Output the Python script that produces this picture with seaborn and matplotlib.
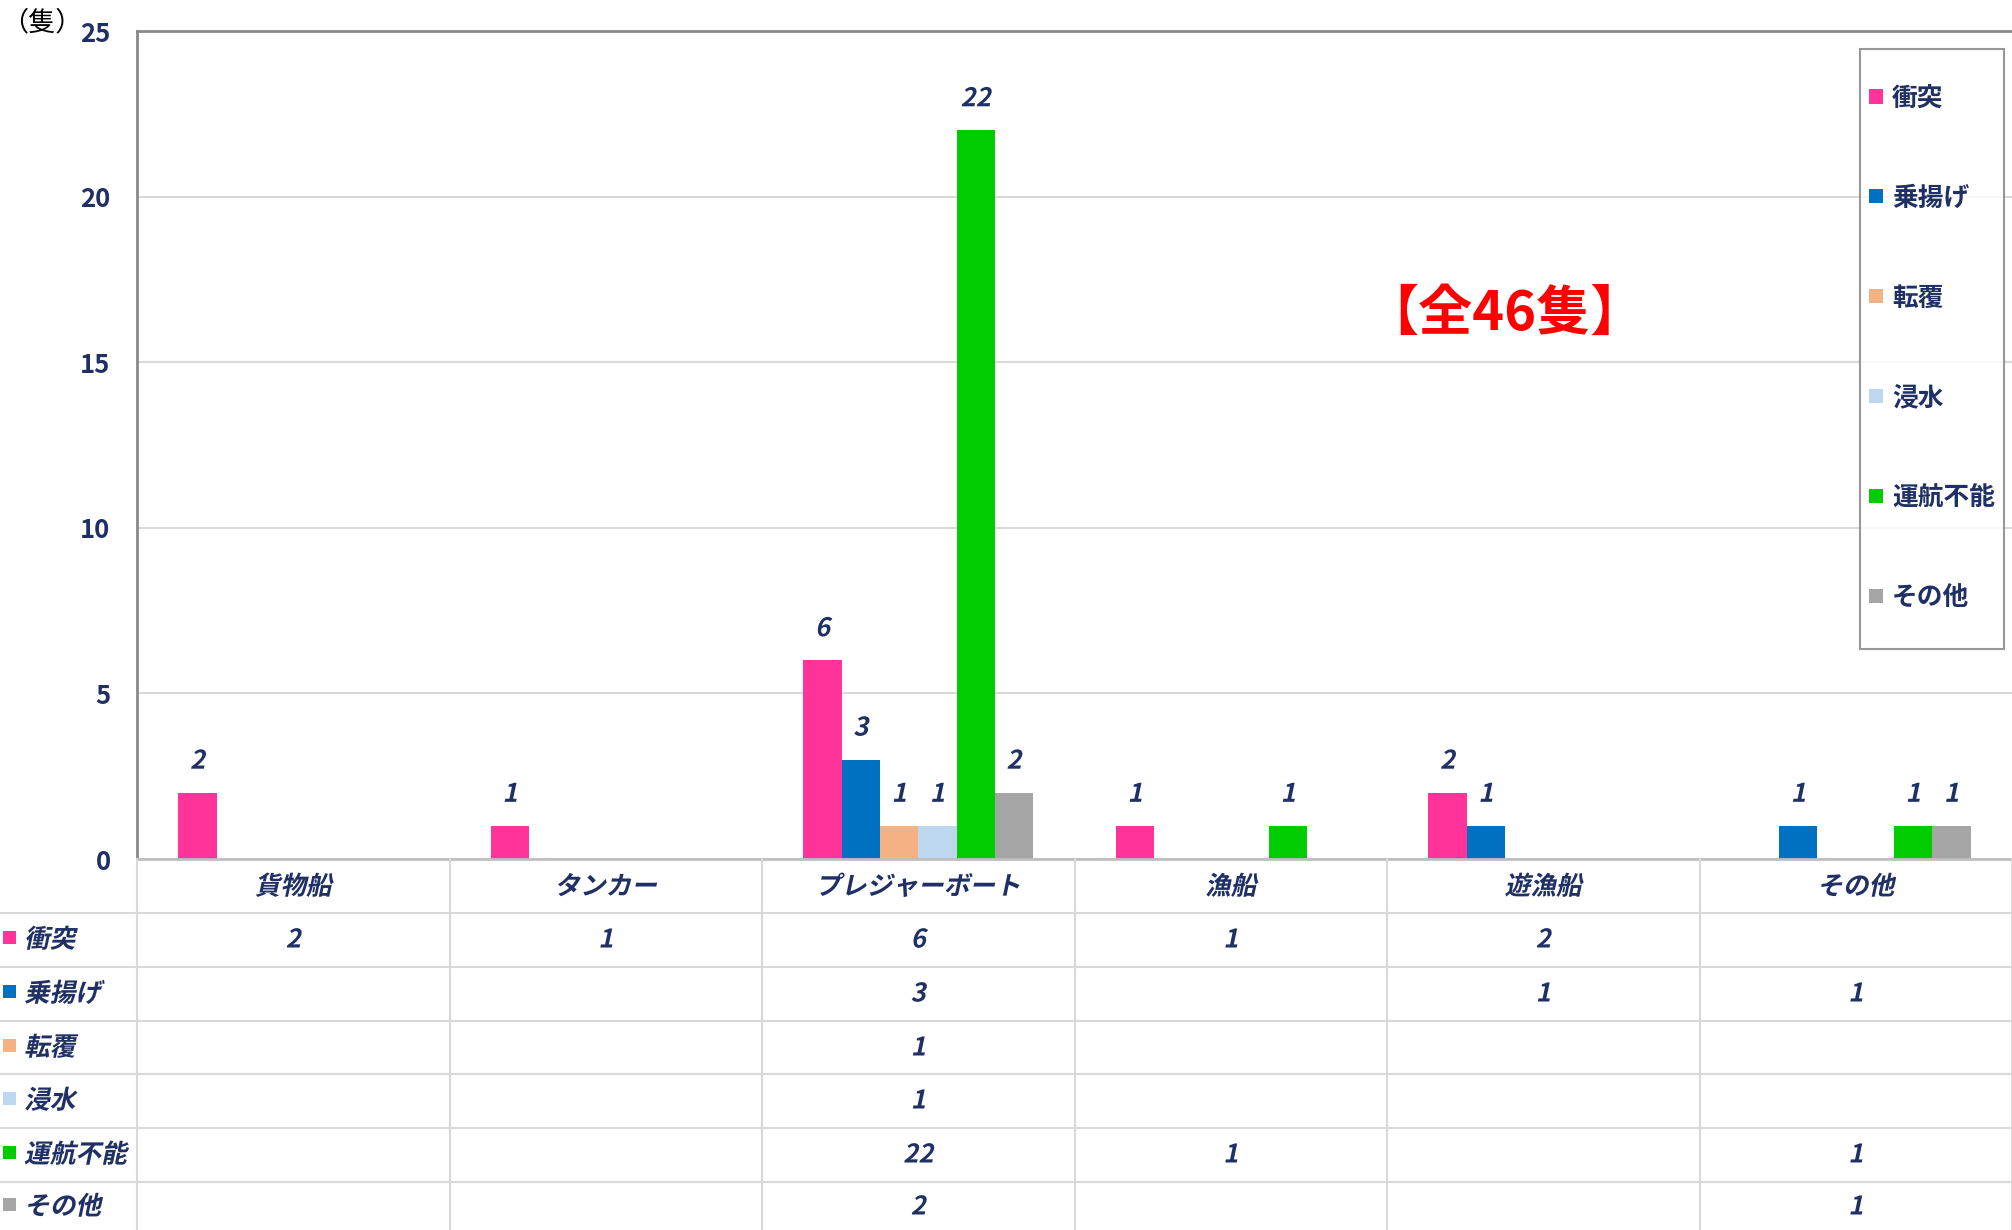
import numpy as np
import pandas as pd
import matplotlib
matplotlib.use("Agg")
import matplotlib.pyplot as plt
import seaborn as sns
from matplotlib import patheffects
from matplotlib.transforms import Affine2D, blended_transform_factory
from matplotlib.lines import Line2D
from matplotlib.patches import Rectangle
from matplotlib.legend_handler import HandlerPatch

# ---------------- data ----------------
categories = ['貨物船', 'タンカー', 'プレジャーボート', '漁船', '遊漁船', 'その他']
series = ['衝突', '乗揚げ', '転覆', '浸水', '運航不能', 'その他']
collision = [2, 1, 6, 1, 2, 0]
grounding = [0, 0, 3, 0, 1, 1]
capsize = [0, 0, 1, 0, 0, 0]
flooding = [0, 0, 1, 0, 0, 0]
disabled = [0, 0, 22, 1, 0, 1]
other = [0, 0, 2, 0, 0, 1]
colors = ['#FF3399', '#0070C0', '#F4B183', '#BDD7EE', '#00CC00', '#A5A5A5']
yticks = [0, 5, 10, 15, 20, 25]
unit_label = '（隻）'
total_label = '【全46隻】'

values = [collision, grounding, capsize, flooding, disabled, other]
df = pd.DataFrame([
    {'ship': c, 'type': s, 'count': v[i]}
    for s, v in zip(series, values) for i, c in enumerate(categories)
])

# ---------------- style ----------------
sns.set_style('white')
plt.rcParams['font.family'] = ['Noto Sans CJK JP', 'DejaVu Sans']
NAVY = '#1F3064'
FS = 18.5
W, H = 2012, 1230


class Italic(patheffects.AbstractPathEffect):
    def __init__(self, deg=12):
        super().__init__()
        self._t = Affine2D().skew_deg(deg, 0)

    def draw_path(self, renderer, gc, tpath, affine, rgbFace=None):
        renderer.draw_path(gc, tpath, self._t + affine, rgbFace)


class SquareHandler(HandlerPatch):
    """Small square legend key, vertically centred on the label text."""
    def create_artists(self, legend, orig_handle, xdescent, ydescent,
                       width, height, fontsize, trans):
        s = 0.55 * fontsize
        p = Rectangle((-xdescent + (width - s) / 2, 0.36 * fontsize - s / 2), s, s)
        self.update_prop(p, orig_handle, legend)
        p.set_transform(trans)
        return [p]


ital = [Italic()]


def fx(x):
    return x / W


def fy(y):
    return 1 - y / H


fig = plt.figure(figsize=(W / 100, H / 100), dpi=100)
ax_left, ax_right, ax_top, ax_bottom = 137, 2012, 31, 859
ax = fig.add_axes([fx(ax_left), fy(ax_bottom), fx(ax_right - ax_left), (ax_bottom - ax_top) / H])

sns.barplot(data=df, x='ship', y='count', hue='type', order=categories, hue_order=series,
            palette=colors, saturation=1, width=0.735, gap=0, errorbar=None,
            linewidth=0, ax=ax)

ax.set_xlim(-0.5, len(categories) - 0.5)
ax.set_ylim(0, 25)
ax.set_yticks(yticks)
ax.set_yticklabels([str(t) for t in yticks], fontsize=FS, fontweight='bold', color=NAVY)
ax.tick_params(axis='y', length=0, pad=19)
ax.set_xticks([])
ax.set_xlabel('')
ax.set_ylabel('')
ax.yaxis.grid(True, color='#D9D9D9', linewidth=1.5)
ax.set_axisbelow(True)
ax.spines['right'].set_visible(False)
ax.spines['top'].set_color('#898989')
ax.spines['left'].set_color('#898989')
ax.spines['bottom'].set_color('#BFBFBF')
for s in ['top', 'left', 'bottom']:
    ax.spines[s].set_linewidth(2)

# bar value labels
for cont, vals in zip(ax.containers, values):
    ax.bar_label(cont, labels=[str(v) if v else '' for v in vals], padding=13,
                 fontsize=FS, fontweight='bold', color=NAVY, path_effects=ital)

# legend
handles, labels = ax.get_legend_handles_labels()
leg = ax.legend(handles, labels, loc='upper right', bbox_to_anchor=(0.9957, 0.978),
                borderaxespad=0, frameon=True, fancybox=False, edgecolor='#7F7F7F',
                handlelength=0.55, handleheight=4.53, handletextpad=0.35,
                labelspacing=0.70, borderpad=0.35,
                handler_map={Rectangle: SquareHandler()},
                prop={'size': FS, 'weight': 'bold'}, labelcolor=NAVY)
leg.get_frame().set_linewidth(1.5)

# total annotation and unit
fig.text(fx(1504), fy(314), total_label, ha='center', va='center', color='#FF0000',
         fontsize=39, fontweight='bold')
fig.text(fx(1), fy(23), unit_label, ha='left', va='center', color='black', fontsize=19.5)

# ---------------- data table ----------------
row_lines = [913, 967, 1021, 1074, 1128, 1182]
row_centers = [886, 939, 993, 1047, 1100, 1154, 1206]
grid_c = '#D9D9D9'
for y in row_lines:
    fig.add_artist(Line2D([0, 1], [fy(y), fy(y)], color=grid_c, linewidth=1.5,
                          transform=fig.transFigure))
bt = blended_transform_factory(ax.transData, fig.transFigure)
for i in range(len(categories) + 1):
    xpos = i - 0.5
    fig.add_artist(Line2D([xpos, xpos], [fy(ax_bottom), 0], color=grid_c, linewidth=1.5,
                          transform=bt))

for i, c in enumerate(categories):
    fig.text(i, fy(row_centers[0] + 1), c, transform=bt, ha='center', va='center',
             fontsize=FS, fontweight='bold', color=NAVY, path_effects=ital)

for r, (s, vals, col) in enumerate(zip(series, values, colors)):
    yc = row_centers[r + 1]
    fig.add_artist(Rectangle((fx(3), fy(yc + 5)), fx(13), 13 / H, facecolor=col,
                             edgecolor='none', transform=fig.transFigure))
    fig.text(fx(24), fy(yc + 1), s, ha='left', va='center', fontsize=FS,
             fontweight='bold', color=NAVY, path_effects=ital)
    for i, v in enumerate(vals):
        if v:
            fig.text(i, fy(yc + 1), str(v), transform=bt, ha='center', va='center',
                     fontsize=FS, fontweight='bold', color=NAVY, path_effects=ital)

fig.savefig('out.png', dpi=100, facecolor='white')
